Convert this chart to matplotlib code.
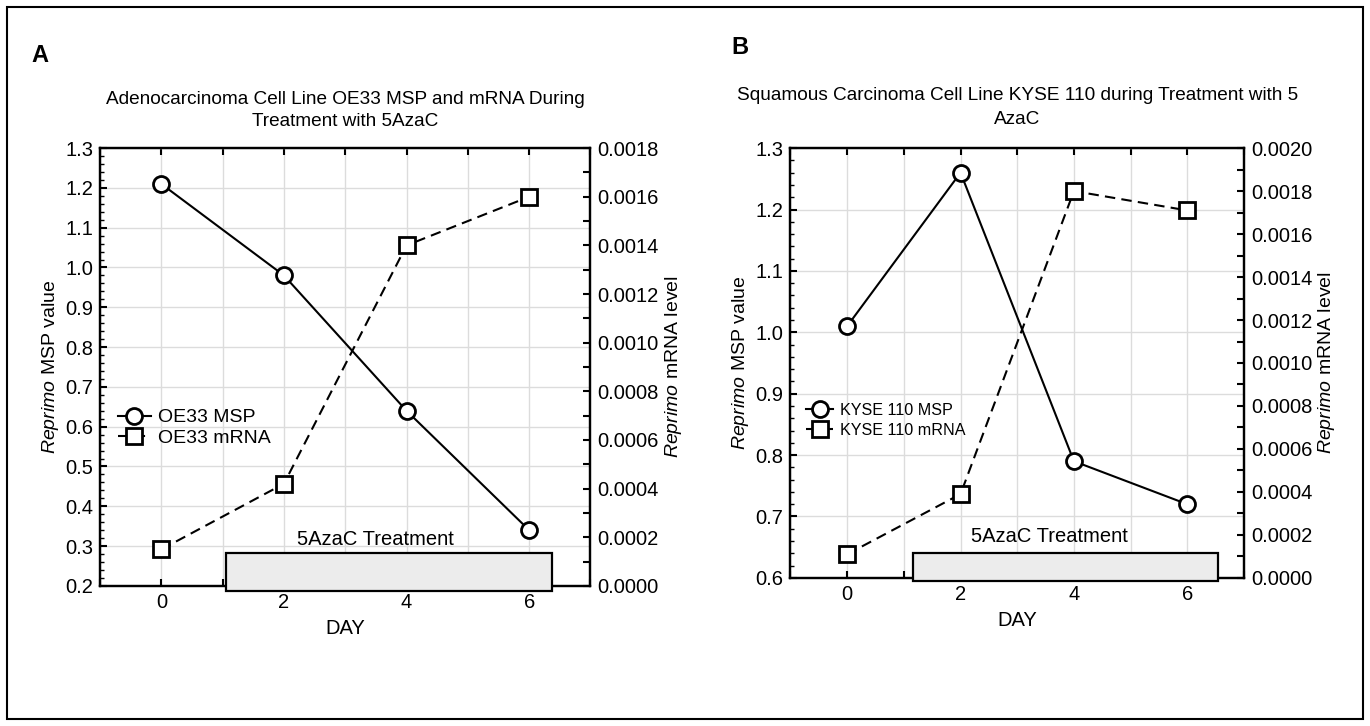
import matplotlib
matplotlib.use("Agg")
import matplotlib.pyplot as plt
from matplotlib.patches import Rectangle
from matplotlib.ticker import MultipleLocator, FormatStrFormatter, FixedLocator

plt.rcParams["font.family"] = ["Liberation Sans", "DejaVu Sans"]
plt.rcParams["mathtext.fontset"] = "custom"
plt.rcParams["mathtext.rm"] = "Liberation Sans"
plt.rcParams["mathtext.it"] = "Liberation Sans:italic"

# ── Data ─────────────────────────────────────────────────────────────────────
days = [0, 2, 4, 6]

a_msp = [1.21, 0.98, 0.64, 0.34]
a_mrna = [0.00015, 0.00042, 0.00140, 0.00160]

b_msp = [1.01, 1.26, 0.79, 0.72]
b_mrna = [0.00011, 0.00039, 0.00180, 0.00171]

treat_a = (1.06, 6.37)   # day span of treatment bar, panel A
treat_b = (1.16, 6.55)   # panel B

title_a = ["Adenocarcinoma Cell Line OE33 MSP and mRNA During",
           "Treatment with 5AzaC"]
title_b = ["Squamous Carcinoma Cell Line KYSE 110 during Treatment with 5",
           "AzaC"]

GRID = "#dcdcdc"
FS = 14.5
W, H = 1370, 726


def panel(rect, msp, mrna, ylim, y2lim, treat, box_y, text_xy,
          leg_names, leg_size, leg_anchor, leg_space, title, title_y):
    ax = fig.add_axes(rect)
    ax2 = ax.twinx()
    ax.set_xlim(-1, 7)
    ax.set_ylim(*ylim)
    ax2.set_ylim(*y2lim)

    ax.xaxis.set_major_locator(FixedLocator([0, 2, 4, 6]))
    ax.xaxis.set_minor_locator(FixedLocator([-1, 1, 3, 5, 7]))
    ax.yaxis.set_major_locator(MultipleLocator(0.1))
    ax.yaxis.set_minor_locator(MultipleLocator(0.02))
    ax.yaxis.set_major_formatter(FormatStrFormatter("%.1f"))
    ax2.yaxis.set_major_locator(MultipleLocator(0.0002))
    ax2.yaxis.set_minor_locator(MultipleLocator(0.0001))
    ax2.yaxis.set_major_formatter(FormatStrFormatter("%.4f"))

    ax.grid(True, which="both", axis="x", color=GRID, lw=1)
    ax.grid(True, which="major", axis="y", color=GRID, lw=1)
    ax.set_axisbelow(True)

    ax.tick_params(which="both", direction="in", top=True, labelsize=FS,
                   pad=5)
    ax.tick_params(which="major", length=5, width=1.5)
    ax.tick_params(which="minor", length=3, width=1)
    ax.tick_params(axis="x", which="minor", length=5, width=1.5)
    ax2.tick_params(which="both", direction="in", labelsize=FS, pad=5)
    ax2.tick_params(which="major", length=5, width=1.5)
    ax2.tick_params(which="minor", length=5, width=1.5)
    for a in (ax, ax2):
        for s in a.spines.values():
            s.set_linewidth(1.6)

    l1, = ax.plot(days, msp, color="black", lw=1.5, marker="o", ms=11.5,
                  mfc="white", mec="black", mew=2, zorder=4, clip_on=False)
    l2, = ax2.plot(days, mrna, color="black", lw=1.5, ls=(0, (5, 3)),
                   marker="s", ms=11.5, mfc="white", mec="black", mew=2,
                   zorder=4, clip_on=False)

    ax.set_xlabel("DAY", fontsize=FS, labelpad=5)
    ax.set_ylabel(r"$\mathit{Reprimo}$ MSP value", fontsize=14, labelpad=3)
    ax2.set_ylabel(r"$\mathit{Reprimo}$ mRNA level", fontsize=14, labelpad=3)

    # two-line title, centred over the plot area
    cx = rect[0] + rect[2] / 2
    for line, ty in zip(title, title_y):
        fig.text(cx, 1 - ty / H, line, ha="center", va="center",
                 fontsize=13.7)

    box = Rectangle((treat[0], box_y[0]), treat[1] - treat[0],
                    box_y[1] - box_y[0], transform=ax.transData,
                    facecolor="#ececec", edgecolor="black", lw=1.6,
                    clip_on=False, zorder=6)
    ax2.add_patch(box)
    ax.text(text_xy[0], text_xy[1], "5AzaC Treatment", ha="center",
            va="center", fontsize=FS, zorder=7)

    ax2.legend([l1, l2], leg_names, loc="center left",
               bbox_to_anchor=leg_anchor, frameon=False, fontsize=leg_size,
               handlelength=1.7, handletextpad=0.4, labelspacing=leg_space,
               borderaxespad=0)
    return ax, ax2


fig = plt.figure(figsize=(13.7, 7.26), dpi=100)

panel([0.073, 0.193, 0.358, 0.603], a_msp, a_mrna, (0.2, 1.3), (0, 0.0018),
      treat_a, (0.188, 0.283), (3.5, 0.316),
      ["OE33 MSP", "OE33 mRNA"], 14, (0.02, 0.361), 0.15,
      title_a, (99, 121))

panel([0.577, 0.204, 0.331, 0.592], b_msp, b_mrna, (0.6, 1.3), (0, 0.0020),
      treat_b, (0.595, 0.641), (3.57, 0.668),
      ["KYSE 110 MSP", "KYSE 110 mRNA"], 11.6, (0.02, 0.367), 0.3,
      title_b, (96, 120))

fig.text(40 / W, 1 - 56 / H, "A", ha="center", va="center",
         fontsize=17, fontweight="bold")
fig.text(740 / W, 1 - 47 / H, "B", ha="center", va="center",
         fontsize=17, fontweight="bold")

# outer frame round the whole figure
fig.add_artist(Rectangle((7 / W, 7 / H), 1356 / W, 712 / H,
                         transform=fig.transFigure, fill=False,
                         edgecolor="black", lw=1.5))

plt.savefig("out.png", dpi=100)
